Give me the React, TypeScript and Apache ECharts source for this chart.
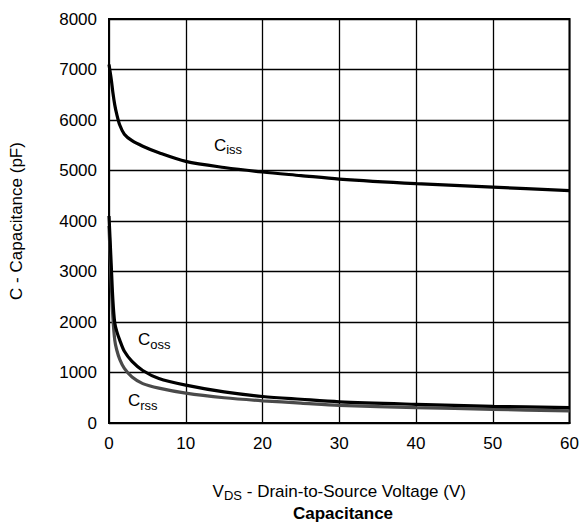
import React, { useEffect, useRef } from "react";
import * as echarts from "echarts";

const vds = [0, 0.3, 0.5, 0.75, 1, 1.4, 2, 3, 4.4, 6.5, 10, 15, 20, 25, 30, 40, 50, 60];
const ciss = [7100, 6800, 6550, 6300, 6120, 5900, 5720, 5590, 5480, 5350, 5180, 5060, 4970, 4900, 4830, 4740, 4670, 4600];
const coss = [4100, 3100, 2450, 1980, 1820, 1640, 1420, 1220, 1040, 880, 750, 615, 525, 470, 420, 370, 330, 305];
const crss = [3900, 2750, 2100, 1640, 1450, 1260, 1080, 910, 780, 690, 590, 500, 440, 395, 350, 305, 270, 240];

const seriesNames = ["iss", "oss", "rss"];
const labelV = [15.5, 5.9, 4.4];
const labelC = [5500, 1650, 440];

const FONT = "'Liberation Sans', Arial, Helvetica, sans-serif";
const FS = 17;

export default function App() {
  const ref = useRef<HTMLDivElement>(null);
  useEffect(() => {
    if (!ref.current) return;
    const chart = echarts.init(ref.current, undefined, { renderer: "svg" });
    const values = [ciss, coss, crss];
    const colors = ["#000000", "#000000", "#4a4a4a"];
    const rich = {
      c: { fontSize: FS, fontFamily: FONT, color: "#000" },
      s: { fontSize: 13, fontFamily: FONT, color: "#000", padding: [9, 0, 0, 0] },
    };
    chart.setOption({
      animation: false,
      textStyle: { fontFamily: FONT },
      title: {
        text: "Capacitance",
        left: 338,
        textAlign: "center",
        top: 500,
        textStyle: { fontFamily: FONT, fontSize: FS, fontWeight: "bold", color: "#000" },
      },
      grid: {
        left: 106,
        right: 12,
        top: 19,
        bottom: 104,
        show: true,
        borderColor: "#000",
        borderWidth: 2,
      },
      xAxis: {
        type: "value",
        min: 0,
        max: 60,
        interval: 10,
        axisLine: { show: true, lineStyle: { color: "#000", width: 2 } },
        axisTick: { show: false },
        splitLine: { show: true, lineStyle: { color: "#000", width: 1.3 } },
        axisLabel: { color: "#000", fontSize: FS, fontFamily: FONT, margin: 12 },
        name: "{c|V}{s|DS}{c| - Drain-to-Source Voltage (V)}",
        nameLocation: "middle",
        nameGap: 57,
        nameTextStyle: { rich },
      },
      yAxis: {
        type: "value",
        min: 0,
        max: 8000,
        interval: 1000,
        axisLine: { show: true, lineStyle: { color: "#000", width: 2 } },
        axisTick: { show: false },
        splitLine: { show: true, lineStyle: { color: "#000", width: 1.3 } },
        axisLabel: {
          color: "#000",
          fontSize: FS,
          fontFamily: FONT,
          margin: 12,
          formatter: (v: number) => String(v),
        },
        name: "C - Capacitance (pF)",
        nameLocation: "middle",
        nameGap: 84,
        nameTextStyle: { color: "#000", fontSize: FS, fontFamily: FONT },
      },
      series: values.map((arr, i) => ({
        type: "line",
        name: "C" + seriesNames[i],
        data: vds.map((v, j) => [v, arr[j]]),
        showSymbol: false,
        smooth: 0.3,
        z: 3 - i,
        lineStyle: { color: colors[i], width: 3.2 },
        markPoint: {
          symbol: "circle",
          symbolSize: 0,
          data: [
            {
              coord: [labelV[i], labelC[i]],
              label: {
                show: true,
                position: "inside",
                formatter: "{c|C}{s|" + seriesNames[i] + "}",
                rich,
              },
            },
          ],
        },
      })),
    });
    return () => chart.dispose();
  }, []);
  return (
    <div
      ref={ref}
      style={{ position: "fixed", left: 0, top: 0, width: 582, height: 527, background: "#fff" }}
    />
  );
}
